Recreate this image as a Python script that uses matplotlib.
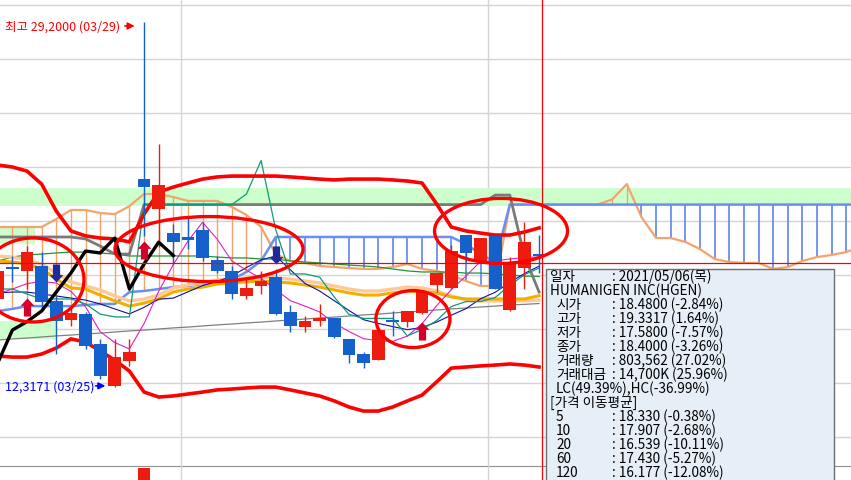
import numpy as np
import matplotlib.pyplot as plt
from matplotlib.patches import Ellipse, Rectangle
from matplotlib.path import Path

# HGEN daily candles 2021/03/11 .. 2021/05/06 (index 0..37)
opens = [16.39, 17.85, 17.69, 17.92, 16.30, 15.42, 15.69, 14.31, 12.36, 13.52,
         21.94, 20.56, 19.44, 19.26, 19.58, 18.19, 17.69, 16.53, 16.99, 17.41,
         15.79, 15.09, 15.37, 15.51, 14.54, 13.84, 13.56, 15.42, 15.32, 15.74,
         17.04, 16.90, 19.35, 18.10, 19.31, 15.88, 17.82, 18.48]
highs = [18.01, 18.38, 18.84, 18.56, 16.53, 16.06, 15.79, 14.54, 14.54, 14.54,
         29.20, 23.56, 19.86, 20.23, 19.95, 18.38, 17.92, 17.41, 17.69, 17.78,
         16.11, 15.60, 16.16, 15.51, 14.54, 13.94, 14.95, 15.83, 15.83, 16.76,
         17.59, 18.89, 19.35, 19.21, 19.31, 18.33, 19.95, 19.3317]
lows = [16.16, 17.18, 16.85, 15.93, 13.84, 15.14, 14.07, 12.69, 12.3171, 13.29,
        19.30, 18.80, 18.01, 18.70, 18.15, 17.59, 16.39, 16.39, 16.62, 15.65,
        14.86, 14.86, 15.14, 14.58, 13.43, 13.19, 13.56, 14.68, 15.09, 15.69,
        16.71, 16.85, 18.10, 18.05, 16.85, 15.83, 16.85, 17.58]
closes = [17.69, 17.80, 18.56, 16.25, 15.37, 15.74, 14.21, 12.82, 13.70, 13.94,
          21.57, 21.67, 19.03, 19.12, 18.29, 17.69, 16.62, 16.90, 17.22, 15.69,
          15.14, 15.37, 15.51, 14.63, 13.80, 13.43, 14.95, 15.34, 15.83, 16.71,
          17.59, 18.61, 18.52, 19.21, 16.85, 18.01, 19.02, 18.40]

# moving averages
ma5 = [16.62, 16.85, 17.10, 17.20, 17.13, 16.74, 16.03, 14.88, 14.37, 14.08,
       15.25, 16.74, 17.98, 19.07, 19.94, 19.16, 18.15, 17.72, 17.34, 16.82,
       16.31, 16.06, 15.79, 15.27, 14.89, 14.55, 14.46, 14.43, 14.67, 15.25,
       16.08, 16.82, 17.45, 18.13, 18.16, 18.24, 18.32, 18.33]
ma10 = [16.67, 16.71, 16.71, 16.62, 16.53, 16.43, 16.34, 16.16, 15.93, 15.70,
        16.00, 16.38, 16.43, 16.72, 17.01, 17.20, 17.45, 17.85, 18.20, 18.38,
        17.74, 17.11, 16.76, 16.31, 15.86, 15.43, 15.26, 15.11, 14.97, 15.07,
        15.32, 15.64, 15.94, 16.40, 16.70, 17.16, 17.57, 17.91]
ma20 = [18.15, 18.10, 18.01, 17.78, 17.31, 16.90, 16.85, 16.57, 16.30, 16.06,
        16.20, 16.39, 16.71, 16.85, 16.94, 17.08, 17.13, 17.18, 17.22, 17.18,
        17.13, 17.04, 16.94, 16.81, 16.67, 16.57, 16.57, 16.67, 16.76, 16.71,
        16.67, 16.48, 16.39, 16.39, 16.39, 16.39, 16.39, 16.54]
ma40 = [18.38, 18.33, 18.19, 18.01, 17.59, 17.18, 16.99, 16.81, 16.53, 16.30,
        16.39, 16.57, 16.90, 17.04, 17.13, 17.27, 17.31, 17.36, 17.41, 17.36,
        17.31, 17.22, 17.13, 16.99, 16.85, 16.76, 16.76, 16.85, 16.94, 16.90,
        16.76, 16.53, 16.34, 16.30, 16.30, 16.30, 16.30, 16.34]
ma60 = [18.15, 18.33, 18.43, 18.47, 18.52, 18.56, 18.56, 18.52, 18.47, 18.38,
        18.38, 18.38, 18.38, 18.38, 18.38, 18.33, 18.29, 18.29, 18.24, 18.24,
        18.15, 18.10, 18.06, 18.01, 17.96, 17.92, 17.87, 17.78, 17.69, 17.64,
        17.64, 17.64, 17.59, 17.59, 17.55, 17.50, 17.45, 17.43]
ma120 = [14.49, 14.54, 14.58, 14.63, 14.68, 14.72, 14.77, 14.81, 14.86, 14.91,
         14.95, 15.00, 15.05, 15.09, 15.14, 15.19, 15.23, 15.28, 15.32, 15.37,
         15.42, 15.46, 15.51, 15.55, 15.60, 15.65, 15.69, 15.74, 15.79, 15.83,
         15.88, 15.93, 15.97, 16.02, 16.06, 16.11, 16.14, 16.18]

# bollinger bands
bb_upper = [22.59, 22.50, 22.31, 21.71, 20.46, 19.54, 19.31, 19.21, 19.17, 19.03,
            20.32, 21.34, 21.57, 21.76, 21.94, 22.04, 22.08, 22.08, 22.08, 22.08,
            22.04, 21.99, 21.94, 21.90, 21.94, 21.94, 21.94, 21.90, 21.85, 21.76,
            20.79, 19.72, 19.54, 19.44, 19.35, 19.35, 19.49, 19.68]
bb_lower = [13.75, 13.70, 13.70, 13.84, 14.12, 14.54, 14.40, 13.98, 13.56, 13.05,
            12.08, 11.85, 11.90, 11.99, 12.08, 12.18, 12.22, 12.27, 12.31, 12.31,
            12.18, 12.04, 11.90, 11.67, 11.39, 11.20, 11.20, 11.39, 11.67, 11.94,
            12.55, 13.19, 13.24, 13.29, 13.33, 13.38, 13.33, 13.24]

# ichimoku
tenkan = [16.85, 16.85, 16.62, 16.39, 16.39, 16.39, 16.16, 15.69, 15.56, 15.56,
          20.76, 20.76, 20.76, 20.76, 20.76, 20.76, 20.76, 21.25, 22.80, 19.60,
          17.55, 17.55, 17.40, 16.48, 15.68, 15.49, 15.49, 15.49, 14.68, 14.98,
          15.39, 16.04, 16.27, 16.27, 16.46, 17.02, 17.52, 17.82]
kijun = [19.26, 19.26, 19.26, 19.26, 19.26, 19.26, 19.17, 18.84, 18.47, 18.47,
         20.76, 20.76, 20.76, 20.76, 20.76, 20.76, 20.76, 20.76, 20.76, 20.76,
         20.76, 20.76, 20.76, 20.76, 20.76, 20.76, 20.76, 20.76, 20.76, 20.76,
         20.76, 20.76, 20.76, 20.76, 21.20, 21.20, 18.38, 16.71]
span_a = [19.72, 19.72, 19.72, 19.72, 20.09, 20.51, 20.51, 20.37, 20.32, 20.69,
          21.25, 21.25, 21.11, 20.93, 20.93, 20.93, 20.65, 20.28, 19.72, 18.47,
          18.15, 18.06, 17.92, 17.87, 17.82, 17.78, 17.78, 17.87, 18.01, 17.78,
          17.69, 17.50, 17.22, 16.99, 16.99, 20.76, 20.76, 20.76, 20.76, 20.76,
          20.76, 20.76, 21.00, 21.71, 20.18, 19.21, 19.21, 19.03, 18.70, 18.24,
          18.10, 18.06, 18.06, 17.78, 17.87, 18.15, 18.33, 18.43, 18.56, 18.83]
span_b = [15.83, 15.93, 16.06, 16.06, 16.06, 16.06, 16.11, 16.16, 16.16, 16.71,
          16.76, 16.85, 16.94, 16.99, 17.08, 17.18, 17.27, 17.64, 18.15, 19.26,
          19.26, 19.26, 19.26, 19.26, 19.26, 19.26, 19.26, 19.26, 19.26, 19.26,
          19.26, 19.26, 18.93, 18.47, 18.10, 20.76, 20.76, 20.76, 20.76, 20.76,
          20.76, 20.76, 20.76, 20.76, 20.76, 20.76, 20.76, 20.76, 20.76, 20.76,
          20.76, 20.76, 20.76, 20.76, 20.76, 20.76, 20.76, 20.76, 20.76, 20.76]
lag_shift = 25

# signal arrows
up_idx = [2, 10, 29]
up_price = [16.02, 18.66, 14.91]
down_idx = [4, 19]
down_price = [17.59, 18.43]

# drawn green zones: (from index, to index, low, high)
zones = [(-5, 70, 20.69, 21.53), (-5, 2.55, 18.93, 19.72), (-5, 4.05, 14.54, 15.37)]

# drawn ellipses: (center index, center price, width, height)
circles = [(2.41, 17.27, 6.97, 3.89), (14.44, 18.70, 12.85, 3.01),
           (34.4, 19.54, 9.09, 3.01), (28.38, 15.46, 5.06, 2.64)]

high_idx, high_val, high_txt = 10, 29.2, "최고 29,2000 (03/29)"
low_idx, low_val, low_txt = 8, 12.3171, "12,3171 (03/25)"

vol_idx = [10]
vol_val = [31500000]

cross_idx, cross_price = 37.2, 18.06

tip_labels = ["일자", "HUMANIGEN INC(HGEN)", " 시가", " 고가", " 저가", " 종가",
              " 거래량", " 거래대금", " LC(49.39%),HC(-36.99%)", "[가격 이동평균]",
              " 5", " 10", " 20", " 60", " 120"]
tip_values = [": 2021/05/06(목)", "", ": 18.4800 (-2.84%)", ": 19.3317 (1.64%)",
              ": 17.5800 (-7.57%)", ": 18.4000 (-3.26%)", ": 803,562 (27.02%)",
              ": 14,700K (25.96%)", "", "", ": 18.330 (-0.38%)", ": 17.907 (-2.68%)",
              ": 16.539 (-10.11%)", ": 17.430 (-5.27%)", ": 16.177 (-12.08%)"]

plt.rcParams['font.family'] = ['Liberation Sans Narrow', 'Noto Sans CJK KR', 'DejaVu Sans']

W, H = 851, 481
fig = plt.figure(figsize=(W / 100, H / 100), dpi=100)
ax = fig.add_axes([0, 14 / H, 1, 467 / H])
axv = fig.add_axes([0, 0, 1, 14 / H])

n = len(closes)
x = np.arange(n)
xa = np.arange(len(span_a))

RED = '#ee1c0e'
BLUE = '#1660cc'

# grid
for p in np.arange(10, 30.1, 2.5):
    ax.axhline(p, color='#d4d4d4', lw=1.0, zorder=0.5)
for v in [12.5, 33.5]:
    ax.axvline(v, color='#d4d4d4', lw=1.0, zorder=0.5)
    axv.axvline(v, color='#d4d4d4', lw=1.0, zorder=0.5)

# green zones
for x0, x1, lo, hi in zones:
    ax.add_patch(Rectangle((x0, lo), x1 - x0, hi - lo, color='#ccffcc', lw=0, zorder=1))

# cloud hatches
sa = np.array(span_a)
sb = np.array(span_b)
ax.vlines(xa[sa > sb], sb[sa > sb], sa[sa > sb], color='#f4a46a', lw=1.0, zorder=2)
ax.vlines(xa[sb > sa], sa[sb > sa], sb[sb > sa], color='#6a8ff0', lw=1.3, zorder=2)
ax.plot(xa, sa, color='#f4a46a', lw=1.6, zorder=2.5)
ax.plot(xa, sb, color='#6a8ff0', lw=1.8, zorder=2.6)

# moving averages and ichimoku lines
ax.plot(x, ma120, color='#808080', lw=0.9, zorder=3)
ax.plot(x, ma60, color='#1e9632', lw=0.9, zorder=3)
ax.plot(x, ma40, color='#ffc898', lw=2.4, zorder=3)
ax.plot(x, ma20, color='#f0b000', lw=2.2, zorder=3.1)
ax.plot(x, ma10, color='#1010a0', lw=0.8, zorder=3.2)
ax.plot(x, ma5, color='#e020c0', lw=0.8, zorder=3.2)
ax.plot(x, kijun, color='#7a7a7a', lw=2.0, zorder=3.3)
ax.plot(x, tenkan, color='#0f9a7a', lw=0.9, zorder=3.4)

# bollinger bands
ax.plot(x, bb_upper, color='#ff0000', lw=2.6, zorder=4)
ax.plot(x, bb_lower, color='#ff0000', lw=2.6, zorder=4)

# candles
for i in range(n):
    o, h, l, c = opens[i], highs[i], lows[i], closes[i]
    col = RED if c >= o else BLUE
    ax.vlines(i, l, h, color=col, lw=1.0, zorder=5)
    ax.bar(i, max(abs(c - o), 0.09), bottom=min(o, c), width=0.87, color=col, zorder=5)

# lagging span
ax.plot(x[:n - lag_shift], closes[lag_shift:], color='black', lw=2.4, zorder=6)

# signal arrows
up_path = Path([(-0.2, -0.5), (0.2, -0.5), (0.2, 0.09), (0.38, 0.09), (0, 0.5),
                (-0.38, 0.09), (-0.2, 0.09), (-0.2, -0.5)])
down_path = Path([(px_, -py_) for px_, py_ in up_path.vertices])
ax.plot(up_idx, up_price, ls='none', marker=up_path, markersize=13,
        color='#d4002a', mec='none', zorder=7)
ax.plot(down_idx, down_price, ls='none', marker=down_path, markersize=13,
        color='#1c2a9c', mec='none', zorder=7)

# drawn ellipses
for cx, cy, w, h in circles:
    ax.add_patch(Ellipse((cx, cy), w, h, fill=False, ec='#ff0000', lw=2.4, zorder=8))

# crosshair
ax.axhline(cross_price, color='#ff0000', lw=0.9, zorder=9)
ax.axvline(cross_idx, color='#ff0000', lw=0.9, zorder=9)
axv.axvline(cross_idx, color='#ff0000', lw=0.9, zorder=9)

# high / low labels
ax.text(0.5, high_val - 0.17, high_txt, color='#ff0000', fontsize=9, va='center', ha='left', zorder=9)
ax.annotate('', xy=(high_idx - 0.45, high_val - 0.17), xytext=(high_idx - 1.5, high_val - 0.17),
            arrowprops=dict(arrowstyle='-|>', color='#ff0000', lw=1.2, mutation_scale=10), zorder=9)
ax.text(0.5, low_val + 0.05, low_txt, color='#0000ff', fontsize=9, va='center', ha='left', zorder=9)
ax.annotate('', xy=(low_idx - 0.45, low_val + 0.05), xytext=(low_idx - 1.5, low_val + 0.05),
            arrowprops=dict(arrowstyle='-|>', color='#0000ff', lw=1.2, mutation_scale=10), zorder=9)

ax.set_xlim(0.1545, 58.32)
ax.set_ylim(8.657, 30.278)
ax.set_xticks([])
ax.set_yticks([])
for s in ['top', 'left', 'right']:
    ax.spines[s].set_visible(False)
ax.spines['bottom'].set_color('#909090')

# volume panel
axv.bar(vol_idx, vol_val, width=0.87, color=RED)
axv.set_xlim(0.1545, 58.32)
axv.set_ylim(0, max(vol_val) * 1.15)
axv.axis('off')

# tooltip box
def fx(px):
    return px / W

def fy(py):
    return 1 - py / H

fig.add_artist(Rectangle((fx(546), fy(490)), fx(834) - fx(546), fy(270) - fy(490),
                         transform=fig.transFigure, fc='#e6eef8', ec='#6f6f6f', lw=1.0, zorder=10))
for k, (lab, val) in enumerate(zip(tip_labels, tip_values)):
    yy = fy(277 + 14 * k)
    lx = 556 if lab.startswith(' ') else 550
    fig.text(fx(lx), yy, lab.strip(), fontsize=9.8, va='center', ha='left', zorder=11)
    if val:
        fig.text(fx(612), yy, val, fontsize=9.8, va='center', ha='left', zorder=11)

fig.savefig('out.png', dpi=100)
